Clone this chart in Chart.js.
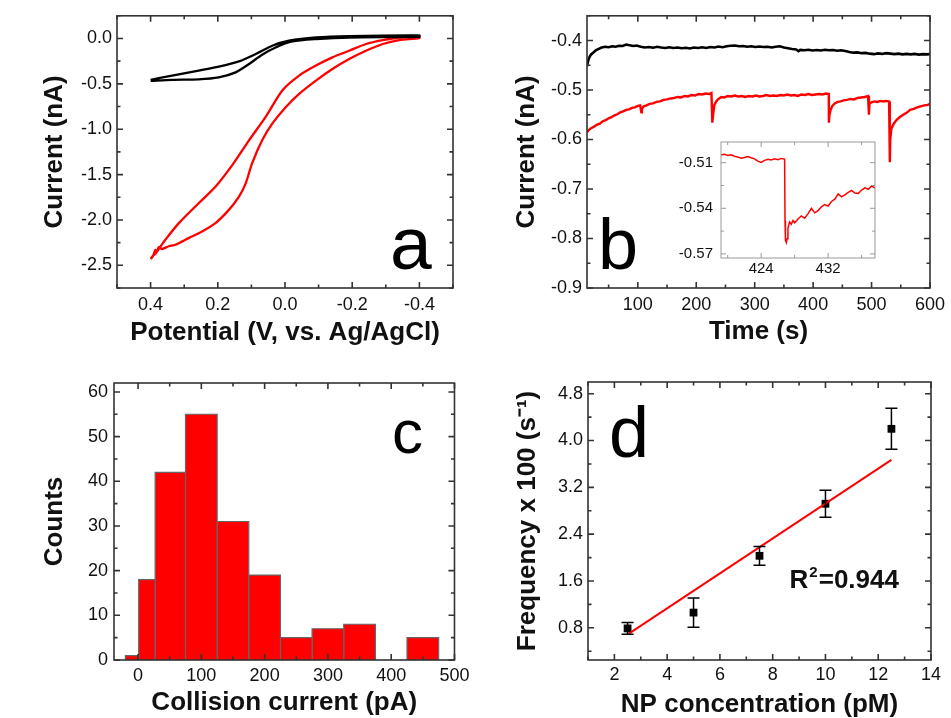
<!DOCTYPE html>
<html>
<head>
<meta charset="utf-8">
<script src="https://cdn.jsdelivr.net/npm/chart.js@4.4.0/dist/chart.umd.min.js"></script>
<style>
  body { margin: 0; background: #fff; width: 951px; height: 718px; position: relative; overflow: hidden; }
  canvas { position: absolute; }
</style>
</head>
<body>
<canvas id="ca" width="475" height="350" style="left:0;top:0"></canvas>
<canvas id="cb" width="476" height="350" style="left:475px;top:0"></canvas>
<canvas id="cbi" width="230" height="165" style="left:660px;top:125px"></canvas>
<canvas id="cc" width="475" height="368" style="left:0;top:350px"></canvas>
<canvas id="cd" width="476" height="368" style="left:475px;top:350px"></canvas>
<script>
// ---- panel a: cyclic voltammograms (V vs Ag/AgCl, nA)
var aBlackV = [0.4, 0.336, 0.257, 0.197, 0.137, 0.087, 0.038, -0.012, -0.092, -0.191, -0.4,
               -0.4, -0.191, -0.092, -0.022, 0.028, 0.068, 0.107, 0.147, 0.197, 0.257, 0.336, 0.4];
var aBlackI = [-0.456, -0.409, -0.354, -0.310, -0.252, -0.171, -0.080, -0.025, 0.011, 0.026, 0.033,
               0.019, 0.011, -0.007, -0.033, -0.099, -0.179, -0.281, -0.373, -0.428, -0.450, -0.456, -0.467];
var aRedV = [0.4, 0.392, 0.385, 0.37, 0.356, 0.316, 0.257, 0.207, 0.157, 0.107, 0.058, 0.008, -0.042,
             -0.092, -0.141, -0.191, -0.241, -0.291, -0.340, -0.4,
             -0.4, -0.340, -0.291, -0.241, -0.191, -0.141, -0.092, -0.042, -0.002, 0.038, 0.068, 0.098,
             0.117, 0.137, 0.167, 0.207, 0.247, 0.287, 0.326, 0.346, 0.366, 0.376, 0.381, 0.386, 0.393, 0.4];
var aRedI = [-2.43, -2.39, -2.37, -2.29, -2.218, -2.035, -1.816, -1.634, -1.396, -1.122, -0.866, -0.573, -0.409,
             -0.299, -0.208, -0.135, -0.061, -0.018, 0.011, 0.022,
             0.004, -0.018, -0.061, -0.135, -0.226, -0.336, -0.464, -0.610, -0.757, -0.939, -1.122, -1.377,
             -1.597, -1.743, -1.889, -2.035, -2.127, -2.200, -2.273, -2.29, -2.32, -2.30, -2.35, -2.33, -2.40, -2.43];

// ---- panel b: amperometric traces (s, nA)
var bBlackT = [13, 15, 17, 20, 24, 28, 33, 38, 44, 50, 56, 62, 68, 74, 80, 86, 92, 98, 105, 112, 119, 126, 133,
  140, 147, 154, 161, 168, 175, 182, 189, 196, 203, 210, 217, 224, 231, 238, 245, 252, 259, 266, 273, 280, 287,
  294, 301, 308, 315, 322, 329, 336, 343, 350, 357, 364, 371, 375, 378, 385, 392, 399, 406, 413, 420, 427, 434,
  441, 448, 455, 462, 469, 476, 483, 490, 497, 504, 511, 518, 525, 532, 539, 546, 553, 560, 567, 574, 581, 588, 595, 600];
var bBlackI = [-0.452, -0.441, -0.434, -0.428, -0.424, -0.420, -0.417, -0.414, -0.4125, -0.4135, -0.4115, -0.4125,
  -0.4105, -0.4110, -0.4080, -0.4095, -0.4110, -0.4100, -0.4125, -0.4140, -0.4130, -0.4145, -0.4125, -0.4140,
  -0.4150, -0.4135, -0.4150, -0.4140, -0.4155, -0.4145, -0.4160, -0.4140, -0.4150, -0.4135, -0.4150, -0.4130,
  -0.4140, -0.4120, -0.4135, -0.4115, -0.4105, -0.4100, -0.4115, -0.4110, -0.4125, -0.4115, -0.4130, -0.4120,
  -0.4130, -0.4125, -0.4140, -0.4125, -0.4115, -0.4140, -0.4155, -0.4170, -0.4180, -0.4215, -0.4190, -0.4195,
  -0.4185, -0.4200, -0.4190, -0.4200, -0.4185, -0.4195, -0.4190, -0.4205, -0.4195, -0.4210, -0.4230, -0.4245,
  -0.4240, -0.4255, -0.4250, -0.4265, -0.4275, -0.4260, -0.4270, -0.4255, -0.4265, -0.4275, -0.4265, -0.4280,
  -0.4270, -0.4280, -0.4270, -0.4285, -0.4275, -0.4280, -0.4275];
var bRedT = [13, 16, 20, 25, 30, 35, 40, 45, 50, 55, 60, 65, 70, 75, 80, 85, 90, 95, 100, 104, 106, 107, 110, 115,
  120, 126, 132, 138, 144, 150, 156, 162, 168, 174, 180, 186, 192, 198, 204, 210, 216, 222, 226, 227.5, 229, 231,
  234, 238, 243, 248, 254, 260, 266, 272, 278, 284, 290, 296, 302, 308, 314, 320, 326, 332, 338, 344, 350, 356,
  362, 368, 374, 380, 386, 392, 398, 404, 410, 416, 422, 426.8, 427, 428, 430, 433, 437, 442, 447, 452, 458, 464,
  470, 476, 482, 488, 494, 495.5, 496.5, 500, 505, 510, 515, 520, 525, 530, 531.3, 532, 534, 538, 543, 548, 554,
  560, 566, 572, 578, 584, 590, 596, 600];
var bRedI = [-0.585, -0.581, -0.577, -0.574, -0.570, -0.568, -0.563, -0.561, -0.557, -0.555, -0.551, -0.549, -0.545,
  -0.543, -0.540, -0.539, -0.536, -0.535, -0.532, -0.531, -0.545, -0.538, -0.533, -0.531, -0.528, -0.527, -0.524,
  -0.523, -0.520, -0.519, -0.517, -0.516, -0.514, -0.515, -0.512, -0.513, -0.510, -0.511, -0.508, -0.509, -0.507,
  -0.508, -0.506, -0.566, -0.548, -0.530, -0.523, -0.518, -0.514, -0.515, -0.512, -0.513, -0.511, -0.513, -0.512,
  -0.514, -0.512, -0.513, -0.511, -0.513, -0.512, -0.510, -0.512, -0.511, -0.512, -0.510, -0.511, -0.509, -0.511,
  -0.510, -0.512, -0.509, -0.510, -0.508, -0.510, -0.509, -0.508, -0.509, -0.507, -0.508, -0.566, -0.550, -0.540,
  -0.532, -0.527, -0.524, -0.523, -0.521, -0.520, -0.518, -0.519, -0.516, -0.515, -0.514, -0.512, -0.550, -0.527,
  -0.525, -0.523, -0.524, -0.522, -0.523, -0.522, -0.523, -0.646, -0.600, -0.578, -0.568, -0.560, -0.555, -0.550,
  -0.546, -0.540, -0.538, -0.535, -0.533, -0.531, -0.530, -0.528];
// inset: zoom around the 427 s collision
var insetT = [419.2, 419.6, 420.0, 420.4, 420.8, 421.2, 421.6, 422.0, 422.4, 422.8, 423.2, 423.6, 424.0, 424.4,
  424.8, 425.2, 425.6, 426.0, 426.4, 426.8, 426.85, 426.9, 427.0, 427.1, 427.2, 427.4, 427.6, 427.8, 428.0, 428.4,
  428.8, 429.2, 429.6, 430.0, 430.4, 430.8, 431.2, 431.6, 432.0, 432.4, 432.8, 433.2, 433.6, 434.0, 434.4, 434.8,
  435.2, 435.6, 436.0, 436.4, 436.8, 437.2, 437.6];
var insetI = [-0.5050, -0.5045, -0.5052, -0.5048, -0.5058, -0.5062, -0.5070, -0.5066, -0.5060, -0.5068, -0.5075,
  -0.5090, -0.5098, -0.5085, -0.5078, -0.5082, -0.5074, -0.5080, -0.5072, -0.5076, -0.5480, -0.5610, -0.5625,
  -0.5600, -0.5530, -0.5490, -0.5505, -0.5480, -0.5495, -0.5470, -0.5450, -0.5465, -0.5435, -0.5400, -0.5430,
  -0.5415, -0.5390, -0.5375, -0.5385, -0.5355, -0.5340, -0.5305, -0.5325, -0.5312, -0.5295, -0.5283, -0.5300,
  -0.5303, -0.5280, -0.5265, -0.5275, -0.5253, -0.5268];

// ---- panel c: histogram of collision currents
var cEdges = [-20, 1, 27, 75, 125, 175, 225, 275, 325, 375, 425, 475];
var cCounts = [1, 18, 42, 55, 31, 19, 5, 7, 8, 0, 5];

// ---- panel d: frequency vs concentration
var dConc = [2.5, 5, 7.5, 10, 12.5];
var dFreq = [0.79, 1.06, 2.03, 2.92, 4.20];
var dErr = [0.10, 0.25, 0.16, 0.23, 0.35];
var dFitX = [2.55, 12.5];
var dFitY = [0.70, 3.67];

// ---- tick values
var aXTicks = [0.4, 0.2, 0, -0.2, -0.4], aXMinor = [0.5, 0.3, 0.1, -0.1, -0.3, -0.5];
var aYTicks = [0, -0.5, -1, -1.5, -2, -2.5], aYMinor = [0.25, -0.25, -0.75, -1.25, -1.75, -2.25, -2.75];
var bXTicks = [100, 200, 300, 400, 500, 600], bXMinor = [50, 150, 250, 350, 450, 550];
var bYTicks = [-0.4, -0.5, -0.6, -0.7, -0.8, -0.9], bYMinor = [-0.35, -0.45, -0.55, -0.65, -0.75, -0.85];
var iXTicks = [424, 432], iXMinor = [420, 428, 436];
var iYTicks = [-0.51, -0.54, -0.57], iYMinor = [-0.525, -0.555];
var cXTicks = [0, 100, 200, 300, 400, 500], cXMinor = [50, 150, 250, 350, 450];
var cYTicks = [0, 10, 20, 30, 40, 50, 60], cYMinor = [5, 15, 25, 35, 45, 55];
var dXTicks = [2, 4, 6, 8, 10, 12, 14], dXMinor = [1, 3, 5, 7, 9, 11, 13];
var dYTicks = [0.8, 1.6, 2.4, 3.2, 4.0, 4.8], dYMinor = [0.4, 1.2, 2.0, 2.8, 3.6, 4.4];

var FONT = '"Liberation Sans", Arial, sans-serif';
Chart.defaults.font.family = FONT;
Chart.defaults.animation = false;
Chart.defaults.plugins.legend.display = false;
Chart.defaults.plugins.tooltip.enabled = false;

function pts(xs, ys) {
  return xs.map(function (x, i) { return { x: x, y: ys[i] }; });
}

function axis(o) {
  var horiz = o.horiz;
  return {
    type: 'linear', min: o.min, max: o.max, reverse: !!o.reverse,
    afterBuildTicks: function (s) { s.ticks = o.ticks.map(function (v) { return { value: v }; }); },
    afterFit: function (s) { if (horiz) s.height = o.size; else s.width = o.size; },
    grid: { display: false, drawTicks: false },
    border: { display: false },
    ticks: {
      autoSkip: false, maxRotation: 0, padding: o.pad, color: '#111',
      font: { size: o.font || 18 },
      callback: function (v) { return Number(v).toFixed(o.dec); }
    },
    title: o.title ? {
      display: true, text: o.title, color: '#111',
      font: { size: 26, weight: 'bold' },
      padding: horiz ? { top: 0, bottom: o.tpad } : { top: o.tpad, bottom: 0 }
    } : { display: false }
  };
}

// box round the plot with inward ticks on all four sides
function framePlugin(f) {
  return {
    id: 'frame',
    afterDraw: function (chart) {
      var a = chart.chartArea, c = chart.ctx, sx = chart.scales.x, sy = chart.scales.y;
      var big = f.big || 6, small = f.small || 3.5;
      c.save();
      c.strokeStyle = f.color; c.lineWidth = f.width;
      c.beginPath();
      function xt(list, len) {
        list.forEach(function (v) {
          var p = sx.getPixelForValue(v);
          c.moveTo(p, a.bottom); c.lineTo(p, a.bottom - len);
          c.moveTo(p, a.top); c.lineTo(p, a.top + len);
        });
      }
      function yt(list, len) {
        list.forEach(function (v) {
          var p = sy.getPixelForValue(v);
          c.moveTo(a.left, p); c.lineTo(a.left + len, p);
          c.moveTo(a.right, p); c.lineTo(a.right - len, p);
        });
      }
      xt(f.xMajor, big); xt(f.xMinor, small);
      yt(f.yMajor, big); yt(f.yMinor, small);
      c.stroke();
      c.strokeRect(a.left, a.top, a.right - a.left, a.bottom - a.top);
      c.restore();
    }
  };
}

// big panel letter
function tagPlugin(text, x, y, size) {
  return {
    id: 'tag',
    afterDraw: function (chart) {
      var c = chart.ctx;
      c.save();
      c.font = size + 'px ' + FONT;
      c.fillStyle = '#000';
      c.textBaseline = 'alphabetic';
      c.fillText(text, x, y);
      c.restore();
    }
  };
}

function lineSet(data, color, w, tension) {
  return { data: data, borderColor: color, borderWidth: w, pointRadius: 0, tension: tension || 0, fill: false };
}

// ---------- a
new Chart(document.getElementById('ca'), {
  type: 'line',
  data: { datasets: [
    lineSet(pts(aBlackV, aBlackI), '#000', 2.3, 0.25),
    lineSet(pts(aRedV, aRedI), '#ff0000', 2.3, 0.25)
  ] },
  options: {
    responsive: false, devicePixelRatio: 1,
    layout: { padding: { left: 0, top: 15, right: 22, bottom: 0 } },
    scales: {
      x: axis({ horiz: true, min: -0.5, max: 0.5, reverse: true, ticks: aXTicks, size: 62, pad: 6, dec: 1,
                title: 'Potential (V, vs. Ag/AgCl)', tpad: 2 }),
      y: axis({ min: -2.75, max: 0.25, ticks: aYTicks, size: 117, pad: 5, dec: 1, title: 'Current (nA)', tpad: 39 })
    }
  },
  plugins: [framePlugin({ xMajor: aXTicks, xMinor: aXMinor, yMajor: aYTicks, yMinor: aYMinor, color: '#333', width: 1.6 }),
            tagPlugin('a', 390, 269, 75)]
});

// ---------- b
new Chart(document.getElementById('cb'), {
  type: 'line',
  data: { datasets: [
    lineSet(pts(bBlackT, bBlackI), '#000', 2.6),
    lineSet(pts(bRedT, bRedI), '#ff0000', 2.4)
  ] },
  options: {
    responsive: false, devicePixelRatio: 1,
    layout: { padding: { left: 0, top: 13, right: 18, bottom: 0 } },
    scales: {
      x: axis({ horiz: true, min: 13, max: 600, ticks: bXTicks, size: 62, pad: 6, dec: 0, title: 'Time (s)', tpad: 2.5 }),
      y: axis({ min: -0.9, max: -0.35, ticks: bYTicks, size: 112, pad: 5, dec: 1, title: 'Current (nA)', tpad: 36 })
    }
  },
  plugins: [framePlugin({ xMajor: bXTicks, xMinor: bXMinor, yMajor: bYTicks, yMinor: bYMinor, color: '#333', width: 1.6 }),
            tagPlugin('b', 123, 269, 72)]
});

// ---------- b inset
new Chart(document.getElementById('cbi'), {
  type: 'line',
  data: { datasets: [lineSet(pts(insetT, insetI), '#ff0000', 1.5)] },
  options: {
    responsive: false, devicePixelRatio: 1,
    layout: { padding: { left: 0, top: 8, right: 15, bottom: 0 } },
    scales: {
      x: axis({ horiz: true, min: 419.2, max: 437.6, ticks: iXTicks, size: 32, pad: 2, dec: 0, font: 15 }),
      y: axis({ min: -0.5727, max: -0.4964, ticks: iYTicks, size: 61, pad: 8, dec: 2, font: 15 })
    }
  },
  plugins: [framePlugin({ xMajor: iXTicks, xMinor: iXMinor, yMajor: iYTicks, yMinor: iYMinor, color: '#999', width: 1, big: 5, small: 3 })]
});

// ---------- c: one filled outline per bin
var cSets = [];
cCounts.forEach(function (n, i) {
  if (!n) return;
  var x0 = cEdges[i], x1 = cEdges[i + 1];
  cSets.push({
    data: [{ x: x0, y: 0 }, { x: x0, y: n }, { x: x1, y: n }, { x: x1, y: 0 }],
    borderColor: '#666', borderWidth: 1.2, backgroundColor: '#ff0000',
    pointRadius: 0, tension: 0, fill: 'origin'
  });
});
new Chart(document.getElementById('cc'), {
  type: 'line',
  data: { datasets: cSets },
  options: {
    responsive: false, devicePixelRatio: 1,
    layout: { padding: { left: 0, top: 33, right: 20, bottom: 0 } },
    scales: {
      x: axis({ horiz: true, min: -38, max: 500, ticks: cXTicks, size: 58, pad: 5.5, dec: 0,
                title: 'Collision current (pA)', tpad: 0 }),
      y: axis({ min: 0, max: 62, ticks: cYTicks, size: 114, pad: 6, dec: 0, title: 'Counts', tpad: 39 })
    }
  },
  plugins: [framePlugin({ xMajor: cXTicks, xMinor: cXMinor, yMajor: cYTicks, yMinor: cYMinor, color: '#333', width: 1.6 }),
            tagPlugin('c', 392, 103, 62)]
});

// ---------- d
var errPlugin = {
  id: 'errbars',
  afterDatasetsDraw: function (chart) {
    var c = chart.ctx, sx = chart.scales.x, sy = chart.scales.y;
    c.save();
    c.strokeStyle = '#000'; c.lineWidth = 1.5;
    c.beginPath();
    dConc.forEach(function (x, i) {
      var px = sx.getPixelForValue(x);
      var top = sy.getPixelForValue(dFreq[i] + dErr[i]), bot = sy.getPixelForValue(dFreq[i] - dErr[i]);
      c.moveTo(px, top); c.lineTo(px, bot);
      c.moveTo(px - 6, top); c.lineTo(px + 6, top);
      c.moveTo(px - 6, bot); c.lineTo(px + 6, bot);
    });
    c.stroke();
    // R^2 note
    var nx = sx.getPixelForValue(8.64), ny = sy.getPixelForValue(1.48);
    c.fillStyle = '#111';
    c.textBaseline = 'alphabetic';
    c.font = 'bold 26px ' + FONT;
    c.fillText('R', nx, ny);
    var w = c.measureText('R').width;
    c.font = 'bold 15px ' + FONT;
    c.fillText('2', nx + w + 1, ny - 11);
    var w2 = c.measureText('2').width;
    c.font = 'bold 26px ' + FONT;
    c.fillText('=0.944', nx + w + w2 + 2, ny);
    c.restore();
  }
};
new Chart(document.getElementById('cd'), {
  type: 'line',
  data: { datasets: [
    lineSet(pts(dFitX, dFitY), '#ff0000', 2),
    { data: pts(dConc, dFreq), showLine: false, pointStyle: 'rect', pointRadius: 5.5,
      backgroundColor: '#000', borderColor: '#000', borderWidth: 0 }
  ] },
  options: {
    responsive: false, devicePixelRatio: 1,
    layout: { padding: { left: 0, top: 32, right: 20, bottom: 0 } },
    scales: {
      x: axis({ horiz: true, min: 1, max: 14, ticks: dXTicks, size: 58, pad: 4, dec: 0,
                title: 'NP concentration (pM)', tpad: -2 }),
      y: axis({ min: 0.25, max: 5.0, ticks: dYTicks, size: 113, pad: 5, dec: 1,
                title: 'Frequency x 100 (s\u207B\u00B9)', tpad: 37 })
    }
  },
  plugins: [framePlugin({ xMajor: dXTicks, xMinor: dXMinor, yMajor: dYTicks, yMinor: dYMinor, color: '#333', width: 1.6 }),
            errPlugin, tagPlugin('d', 134, 107, 72)]
});
</script>
</body>
</html>
